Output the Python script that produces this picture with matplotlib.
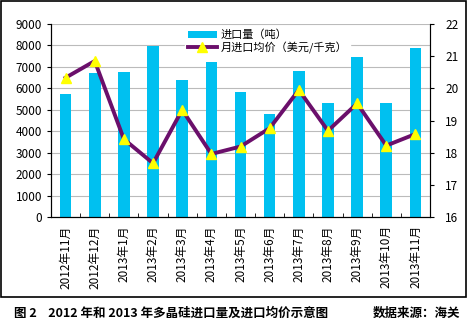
import matplotlib.pyplot as plt
from matplotlib.patches import Rectangle
import numpy as np

plt.rcParams['font.family'] = ['Noto Sans CJK SC', 'DejaVu Sans']

months = ["2012年11月", "2012年12月", "2013年1月", "2013年2月", "2013年3月",
          "2013年4月", "2013年5月", "2013年6月", "2013年7月", "2013年8月",
          "2013年9月", "2013年10月", "2013年11月"]
volume = [5750, 6720, 6750, 7990, 6400, 7220, 5840, 4790, 6830, 5300, 7480, 5300, 7900]
price = [20.33, 20.85, 18.42, 17.67, 19.33, 17.96, 18.19, 18.76, 19.95, 18.68, 19.53, 18.22, 18.58]

bar_color = "#00C0F0"
line_color = "#6B0F6B"

fig = plt.figure(figsize=(4.67, 3.30), dpi=100)
fig.patches.append(Rectangle((0.002, 1 - 297 / 330), 0.995, 297 / 330 - 0.003,
                             transform=fig.transFigure, fill=False,
                             edgecolor="black", linewidth=1.2))

ax = fig.add_axes([51 / 467, 1 - 217 / 330, (430 - 51) / 467, (217 - 24) / 330])
x = np.arange(len(months))
b = ax.bar(x, volume, width=0.4, color=bar_color, zorder=2, label="进口量（吨）")
ax.set_ylim(0, 9000)
ax.set_yticks(range(0, 9001, 1000))
ax.set_xlim(-0.5, len(months) - 0.5)
ax.yaxis.grid(True, color="#bbbbbb", linewidth=0.8, zorder=0)
ax.set_axisbelow(True)
ax.set_xticks(x)
ax.set_xticklabels(months, rotation=90, fontsize=8.5)
ax.set_xticks(np.arange(-0.5, len(months), 1), minor=True)
ax.tick_params(axis="x", which="major", length=0, pad=6)
ax.tick_params(axis="x", which="minor", length=3, direction="in")
ax.tick_params(axis="y", labelsize=8.5, length=3, direction="out")
ax.spines["top"].set_visible(False)
ax.spines["right"].set_color("#555555")

ax2 = ax.twinx()
ln, = ax2.plot(x, price, color=line_color, linewidth=2.8, marker="^",
               markersize=7, markerfacecolor="#FFFF00", markeredgecolor="#FFFF00",
               zorder=3, label="月进口均价（美元/千克）")
ax2.set_ylim(16, 22)
ax2.set_yticks(range(16, 23))
ax2.tick_params(axis="y", labelsize=8.5, length=3, direction="out", pad=8)
ax2.spines["top"].set_visible(False)

leg = ax2.legend([b, ln], ["进口量（吨）", "月进口均价（美元/千克）"],
                 loc="upper left", bbox_to_anchor=(0.34, 1.01), fontsize=8,
                 frameon=True, framealpha=1, edgecolor="white", fancybox=False,
                 handlelength=2.6, borderpad=0.2, labelspacing=0.1, handletextpad=0.4)

fig.text(0.03, 0.03, "图 2    2012 年和 2013 年多晶硅进口量及进口均价示意图",
         fontsize=9, fontweight="bold", ha="left", va="bottom")
fig.text(0.985, 0.03, "数据来源：海关", fontsize=9, fontweight="bold",
         ha="right", va="bottom")

fig.savefig("out.png", dpi=100)
